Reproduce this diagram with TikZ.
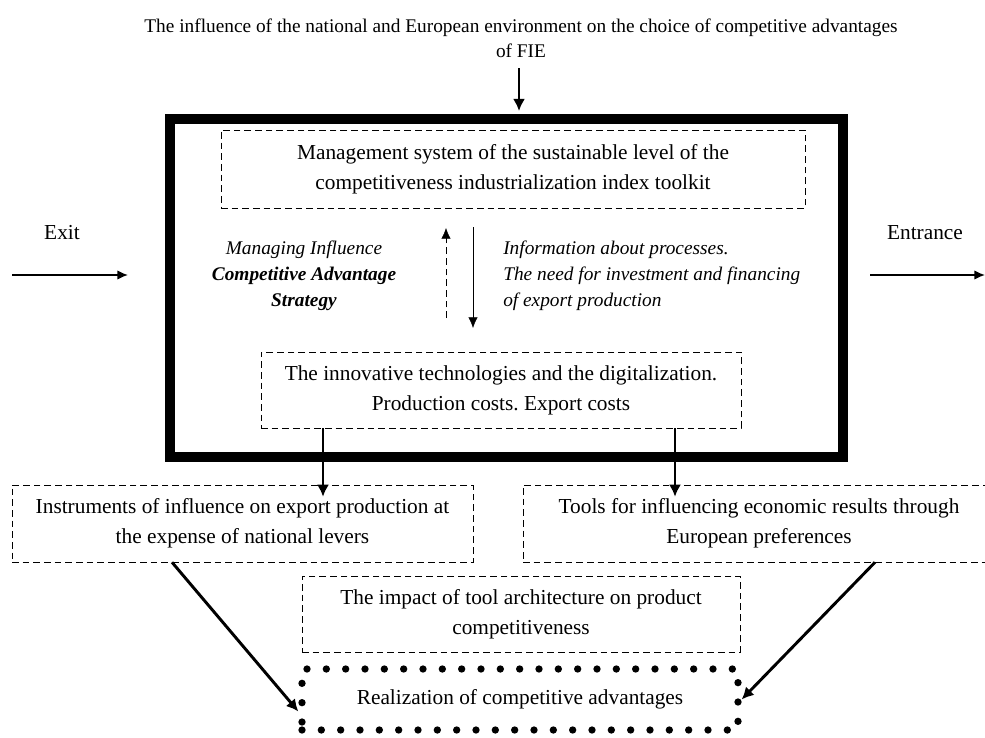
\documentclass[tikz,border=0pt]{standalone}
\usepackage{fontspec}
\setmainfont{Liberation Serif}
\usetikzlibrary{positioning,arrows.meta}
\frenchspacing
\tikzset{dash box/.style={draw,dash pattern=on 5pt off 3pt,align=center,inner sep=0pt,font=\fontsize{16}{22.5}\selectfont},
  dot box/.style={draw,line width=5.5pt,line cap=round,dash pattern=on 0pt off 14.5pt,align=center,inner sep=0pt,font=\fontsize{16}{22.5}\selectfont},
  big frame/.style={draw,line width=7.5pt},
  plain text/.style={align=center,inner sep=0pt},
  side text/.style={inner sep=0pt,font=\fontsize{14.5}{19.5}\selectfont\itshape},
  thin arrow/.style={-{Latex[length=8pt,width=7pt]}},
  thick arrow/.style={line width=2pt,-{Latex[length=9pt,width=9pt]}},}

\begin{document}
\begin{tikzpicture}[x=0.75pt,y=-0.75pt]
      \useasboundingbox (0,0) rectangle (985,738);

      \node[plain text,font=\fontsize{14.5}{18.75}\selectfont] (title) at (521,38) {The influence of the national and European environment on the choice of competitive advantages\\of FIE};
      \draw[big frame] (170,119) rectangle (843,457);
      \coordinate (top) at (519,111);

      \node[dash box,minimum width=438pt,minimum height=58.5pt] (mgmt) at (513,169)
        {Management system of the sustainable level of the\\competitiveness industrialization index toolkit};
      \node[dash box,minimum width=360pt,minimum height=57pt] (tech) at (501,390)
        {The innovative technologies and the digitalization.\\Production costs. Export costs};

      \node[side text,align=center] (strat) at (304,276)
        {Managing Influence\\\textbf{Competitive Advantage}\\\textbf{Strategy}};
      \node[side text,anchor=west,align=left] (info) at (503,276)
        {Information about processes.\\The need for investment and financing\\of export production};

      \coordinate (up1) at (446,318);
      \coordinate (up2) at (446,228);
      \coordinate (dn1) at (473,227);
      \coordinate (dn2) at (473,328);

      \node[plain text,font=\fontsize{16}{20}\selectfont] (exit) at (62,233) {Exit};
      \node[plain text,font=\fontsize{16}{20}\selectfont] (entr) at (925,233) {Entrance};
      \coordinate (ex1) at (12,275);
      \coordinate (ex2) at (128,275);
      \coordinate (en1) at (870,275);
      \coordinate (en2) at (985,275);

      \node[dash box,minimum width=345.75pt,minimum height=57.75pt] (instr) at (242.5,523.5)
        {Instruments of influence on export production at\\the expense of national levers};
      \node[dash box,minimum width=354pt,minimum height=57.75pt] (tools) at (759,523.5)
        {Tools for influencing economic results through\\European preferences};
      \node[dash box,minimum width=328.5pt,minimum height=57pt] (impact) at (521,614)
        {The impact of tool architecture on product\\competitiveness};
      \node[dot box,minimum width=327pt,minimum height=45.75pt] (real) at (520,699.5)
        {Realization of competitive advantages};

      \coordinate (l1) at (323,0);
      \coordinate (r1) at (675,0);
      \coordinate (ld) at (172,0);
      \coordinate (rd) at (875,0);

      \draw[thick arrow] ([yshift=-8pt]title.south -| top) -- (top);
      \draw[thin arrow,dash pattern=on 5pt off 3pt] (up1) -- (up2);
      \draw[thin arrow] (dn1) -- (dn2);
      \draw[thin arrow,line width=1pt] (ex1) -- (ex2);
      \draw[thin arrow,line width=1pt] (en1) -- (en2);
      \draw[thick arrow] (tech.south -| l1) -- ([yshift=-9pt]instr.north -| l1);
      \draw[thick arrow] (tech.south -| r1) -- ([yshift=-9pt]tools.north -| r1);
      \draw[thick arrow,line width=2.2pt] (instr.south -| ld) -- ([yshift=-9pt]real.west);
      \draw[thick arrow,line width=2.2pt] (tools.south -| rd) -- (real.east);

    \end{tikzpicture}
\end{document}
